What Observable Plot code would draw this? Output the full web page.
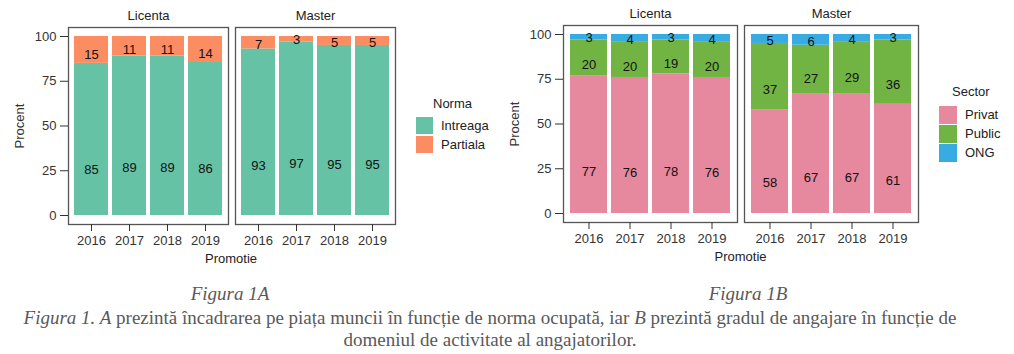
<!DOCTYPE html>
<html><head><meta charset="utf-8">
<script src="https://cdn.jsdelivr.net/npm/d3@7"></script>
<script src="https://cdn.jsdelivr.net/npm/@observablehq/plot@0.6"></script>
<style>
body{margin:0;background:#fff;}
#root{position:relative;width:1014px;height:354px;overflow:hidden;font-family:"Liberation Sans",Arial,sans-serif;color:#222;}
.abs{position:absolute;white-space:nowrap;}
.lab{font-size:13px;line-height:16px;}
.sw{position:absolute;}
.cap{position:absolute;font-family:"Liberation Serif","Times New Roman",serif;color:#595959;font-size:19px;line-height:22px;text-align:center;white-space:nowrap;}
</style></head><body><div id="root"></div>
<script>
const years = ["2016","2017","2018","2019"];
const levels = ["Licenta","Master"];

const normaCats = ["Intreaga","Partiala"];
const normaColors = ["#66C2A5","#FC8D62"];
const intreagaLicenta = [85,89,89,86];
const partialaLicenta = [15,11,11,14];
const intreagaMaster = [93,97,95,95];
const partialaMaster = [7,3,5,5];

const sectorCats = ["Privat","Public","ONG"];
const sectorColors = ["#E6889E","#72B443","#38ACE2"];
const privatLicenta = [77,76,78,76];
const publicLicenta = [20,20,19,20];
const ongLicenta = [3,4,3,4];
const privatMaster = [58,67,67,61];
const publicMaster = [37,27,29,36];
const ongMaster = [5,6,4,3];

const labelFrac = 0.3;

function buildRows(byLevel, cats) {
  const rows = [];
  for (const lvl of levels) {
    years.forEach((yr, i) => {
      let base = 0;
      cats.forEach((c, k) => {
        const v = byLevel[lvl][k][i];
        rows.push({level: lvl, year: yr, cat: c, value: v, y1: base, y2: base + v, ly: base + labelFrac * v});
        base += v;
      });
    });
  }
  return rows;
}

const rowsA = buildRows({Licenta: [intreagaLicenta, partialaLicenta], Master: [intreagaMaster, partialaMaster]}, normaCats);
const rowsB = buildRows({Licenta: [privatLicenta, publicLicenta, ongLicenta], Master: [privatMaster, publicMaster, ongMaster]}, sectorCats);

function chart(o) {
  return Plot.plot({
    width: o.width, height: o.height,
    marginLeft: o.marginLeft, marginRight: o.marginRight, marginTop: o.marginTop, marginBottom: o.marginBottom,
    style: {fontFamily: "Liberation Sans, Arial, sans-serif", fontSize: "13px", color: "#222", background: "transparent", overflow: "visible"},
    fx: {domain: levels, paddingInner: o.fxPad, paddingOuter: 0, label: null},
    x: {domain: years, type: "band", paddingInner: 0.1, paddingOuter: 0.15, label: null},
    y: {domain: [0, 100], insetTop: 9, insetBottom: 9, label: null},
    color: {domain: o.cats, range: o.colors},
    marks: [
      Plot.barY(o.rows, {fx: "level", x: "year", y1: "y1", y2: "y2", fill: "cat"}),
      Plot.text(o.rows, {fx: "level", x: "year", y: "ly", text: d => String(d.value), fill: "#111", fontSize: 13}),
      Plot.frame({stroke: "#555", strokeWidth: 1.3}),
      Plot.axisY({ticks: [0, 25, 50, 75, 100], tickSize: 8, tickPadding: 4, color: "#333", label: "Procent", labelAnchor: "center", labelArrow: "none", labelOffset: o.labelOffset}),
      Plot.axisX({tickSize: 7, tickPadding: 4, color: "#333", label: null}),
      Plot.axisFx({anchor: "top", tickSize: 0, tickPadding: 8, color: "#222", label: null})
    ]
  });
}

const root = document.getElementById("root");

function place(el, left, top) {
  el.style.position = "absolute";
  el.style.left = left + "px";
  el.style.top = top + "px";
  root.appendChild(el);
}
function text(str, left, cy, cls) {
  const d = document.createElement("div");
  d.className = "abs " + (cls || "lab");
  d.textContent = str;
  place(d, left, cy - 8);
  return d;
}
function swatch(color, left, top, w, h) {
  const d = document.createElement("div");
  d.className = "sw";
  d.style.background = color;
  d.style.width = w + "px";
  d.style.height = h + "px";
  place(d, left, top);
}

// Figure A
place(chart({rows: rowsA, cats: normaCats, colors: normaColors, width: 400, height: 254,
  marginLeft: 67, marginRight: 5, marginTop: 27, marginBottom: 30, fxPad: 0.042, labelOffset: 54}), 0, 0);
// Figure B
place(chart({rows: rowsB, cats: sectorCats, colors: sectorColors, width: 420, height: 252,
  marginLeft: 63, marginRight: 2, marginTop: 25, marginBottom: 30, fxPad: 0.039, labelOffset: 54}), 500, 0);

// x titles
const pa = text("Promotie", 0, 259); pa.style.width = "462px"; pa.style.textAlign = "center";
const pb = text("Promotie", 500, 257); pb.style.width = "481px"; pb.style.textAlign = "center";

// Legend A
text("Norma", 433, 104);
normaCats.forEach((c, i) => {
  swatch(normaColors[i], 416, 117 + i * 19, 17, 17);
  text(c, 441, 126 + i * 19);
});
// Legend B
text("Sector", 952, 92);
sectorCats.forEach((c, i) => {
  swatch(sectorColors[i], 939, 106 + i * 19, 18, 18);
  text(c, 965, 115 + i * 19);
});

// Captions
const c1 = document.createElement("div"); c1.className = "cap"; c1.innerHTML = "<i>Figura 1A</i>";
c1.style.width = "200px"; place(c1, 130, 283);
const c2 = document.createElement("div"); c2.className = "cap"; c2.innerHTML = "<i>Figura 1B</i>";
c2.style.width = "200px"; place(c2, 648, 283);
const c3 = document.createElement("div"); c3.className = "cap";
c3.innerHTML = "<i>Figura 1. A</i> prezintă încadrarea pe piața muncii în funcție de norma ocupată, iar <i>B</i> prezintă gradul de angajare în funcție de<br>domeniul de activitate al angajatorilor.";
c3.style.width = "980px"; place(c3, 0, 307);
</script>
</body></html>
